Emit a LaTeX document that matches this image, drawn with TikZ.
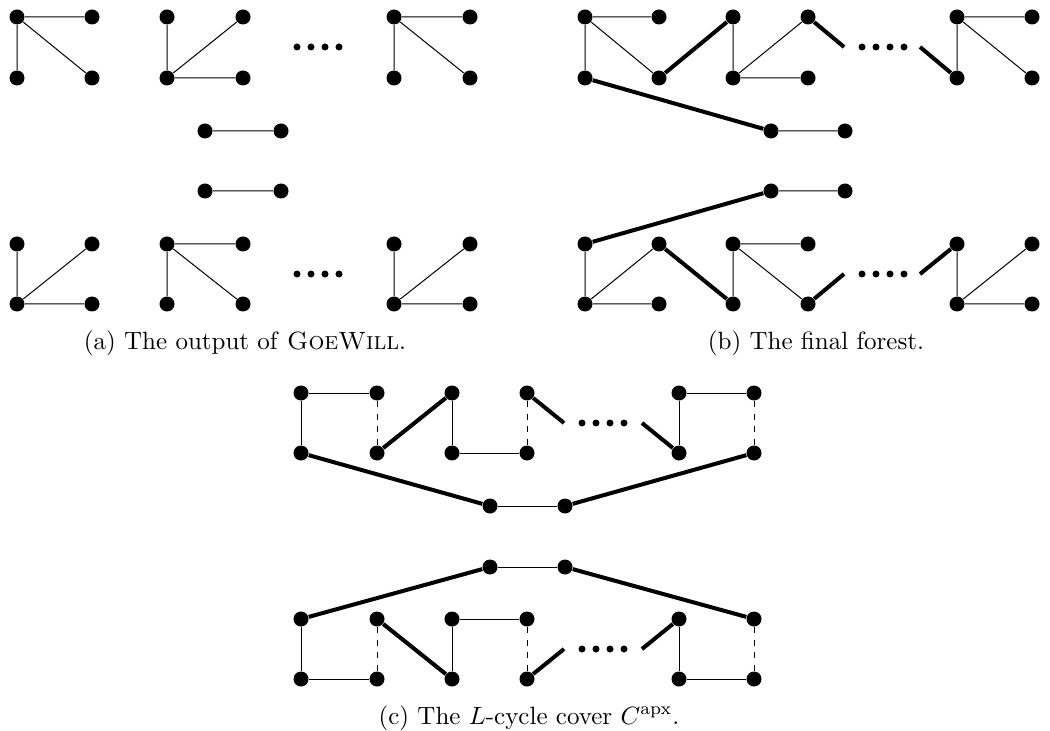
\documentclass[tikz,border=0pt]{standalone}
\newcommand\vtx[3]{\node[v] (#1) at (#2,#3) {};}
\newcommand\fourdots[3]{%
  \node[sd] (#1a) at (#2,#3) {};
  \node[sd] (#1b) at ({#2+14},#3) {};
  \node[sd] (#1c) at ({#2+28},#3) {};
  \node[sd] (#1d) at ({#2+42},#3) {};}
\begin{document}
\begin{tikzpicture}[x=0.4pt,y=-0.4pt,
  v/.style={circle,fill,inner sep=0pt,minimum size=6pt},
  sd/.style={circle,fill,inner sep=0pt,minimum size=2.8pt},
  lt/.style={line width=0.4pt},
  heavy/.style={line width=1.6pt},
  dsh/.style={line width=0.4pt,dash pattern=on 2.5pt off 2.5pt},
  capt/.style={anchor=base,inner sep=0pt}]
\useasboundingbox (0,0) rectangle (1050,731);

% ---------------- panel (a) ----------------
\vtx{a1}{17}{17}\vtx{a2}{92}{17}\vtx{a3}{17}{78}\vtx{a4}{92}{78}
\vtx{a5}{167}{17}\vtx{a6}{243}{17}\vtx{a7}{167}{78}\vtx{a8}{243}{78}
\vtx{a9}{394}{17}\vtx{a10}{470}{17}\vtx{a11}{394}{78}\vtx{a12}{470}{78}
\fourdots{ad}{297}{47}
\vtx{am1}{205}{131}\vtx{am2}{281}{131}
\vtx{am3}{205}{191}\vtx{am4}{281}{191}
\vtx{ab1}{17}{244}\vtx{ab2}{92}{244}\vtx{ab3}{17}{304}\vtx{ab4}{92}{304}
\vtx{ab5}{167}{244}\vtx{ab6}{243}{244}\vtx{ab7}{167}{304}\vtx{ab8}{243}{304}
\vtx{ab9}{394}{244}\vtx{ab10}{470}{244}\vtx{ab11}{394}{304}\vtx{ab12}{470}{304}
\fourdots{abd}{297}{274}
\draw[lt] (a1)--(a2) (a1)--(a3) (a1)--(a4)
          (a7)--(a5) (a7)--(a6) (a7)--(a8)
          (a9)--(a10) (a9)--(a11) (a9)--(a12)
          (am1)--(am2) (am3)--(am4)
          (ab3)--(ab1) (ab3)--(ab2) (ab3)--(ab4)
          (ab5)--(ab6) (ab5)--(ab7) (ab5)--(ab8)
          (ab11)--(ab9) (ab11)--(ab10) (ab11)--(ab12);
\node[capt] (capa) at (245,349) {(a) The output of \textsc{GoeWill}.};

% ---------------- panel (b) ----------------
\vtx{b1}{585}{17}\vtx{b2}{659}{17}\vtx{b3}{585}{78}\vtx{b4}{659}{78}
\vtx{b5}{733}{17}\vtx{b6}{808}{17}\vtx{b7}{733}{78}\vtx{b8}{808}{78}
\vtx{b9}{957}{17}\vtx{b10}{1032}{17}\vtx{b11}{957}{78}\vtx{b12}{1032}{78}
\fourdots{bd}{862}{47}
\coordinate (bs1) at (844,47);
\coordinate (bs2) at (920,47);
\vtx{bm1}{771}{131}\vtx{bm2}{845}{131}
\vtx{bm3}{771}{191}\vtx{bm4}{845}{191}
\vtx{bb1}{585}{244}\vtx{bb2}{659}{244}\vtx{bb3}{585}{304}\vtx{bb4}{659}{304}
\vtx{bb5}{733}{244}\vtx{bb6}{808}{244}\vtx{bb7}{733}{304}\vtx{bb8}{808}{304}
\vtx{bb9}{957}{244}\vtx{bb10}{1032}{244}\vtx{bb11}{957}{304}\vtx{bb12}{1032}{304}
\fourdots{bbd}{862}{274}
\coordinate (bbs1) at (844,274);
\coordinate (bbs2) at (920,274);
\draw[lt] (b1)--(b2) (b1)--(b3) (b1)--(b4)
          (b7)--(b5) (b7)--(b6) (b7)--(b8)
          (b9)--(b10) (b9)--(b11) (b9)--(b12)
          (bm1)--(bm2) (bm3)--(bm4)
          (bb3)--(bb1) (bb3)--(bb2) (bb3)--(bb4)
          (bb5)--(bb6) (bb5)--(bb7) (bb5)--(bb8)
          (bb11)--(bb9) (bb11)--(bb10) (bb11)--(bb12);
\draw[heavy] (b4)--(b5) (b6)--(bs1) (bs2)--(b11) (b3)--(bm1)
             (bb1)--(bm3) (bb2)--(bb7) (bb8)--(bbs1) (bbs2)--(bb9);
\node[capt] (capb) at (816,349) {(b) The final forest.};

% ---------------- panel (c) ----------------
\vtx{c1}{301}{393}\vtx{c2}{377}{393}\vtx{c3}{301}{453}\vtx{c4}{377}{453}
\vtx{c5}{452}{393}\vtx{c6}{527}{393}\vtx{c7}{452}{453}\vtx{c8}{527}{453}
\vtx{c9}{679}{393}\vtx{c10}{754}{393}\vtx{c11}{679}{453}\vtx{c12}{754}{453}
\fourdots{cd}{582}{423}
\coordinate (cs1) at (564,423);
\coordinate (cs2) at (642,423);
\vtx{cm1}{490}{506}\vtx{cm2}{565}{506}
\vtx{cm3}{490}{567}\vtx{cm4}{565}{567}
\vtx{cb1}{301}{619}\vtx{cb2}{377}{619}\vtx{cb3}{301}{679}\vtx{cb4}{377}{679}
\vtx{cb5}{452}{619}\vtx{cb6}{527}{619}\vtx{cb7}{452}{679}\vtx{cb8}{527}{679}
\vtx{cb9}{679}{619}\vtx{cb10}{754}{619}\vtx{cb11}{679}{679}\vtx{cb12}{754}{679}
\fourdots{cbd}{582}{649}
\coordinate (cbs1) at (564,649);
\coordinate (cbs2) at (642,649);
\draw[lt] (c1)--(c2) (c1)--(c3) (c5)--(c7) (c7)--(c8)
          (c9)--(c11) (c9)--(c10) (cm1)--(cm2) (cm3)--(cm4)
          (cb1)--(cb3) (cb3)--(cb4) (cb5)--(cb7) (cb5)--(cb6)
          (cb9)--(cb11) (cb11)--(cb12);
\draw[dsh] (c2)--(c4) (c6)--(c8) (c10)--(c12)
           (cb2)--(cb4) (cb6)--(cb8) (cb10)--(cb12);
\draw[heavy] (c4)--(c5) (c6)--(cs1) (cs2)--(c11)
             (c3)--(cm1) (cm2)--(c12)
             (cb1)--(cm3) (cm4)--(cb10)
             (cb2)--(cb7) (cb8)--(cbs1) (cbs2)--(cb9);
\node[capt] (capc) at (529,724) {(c) The $L$-cycle cover $C^{\mathrm{apx}}$.};
\end{tikzpicture}
\end{document}
